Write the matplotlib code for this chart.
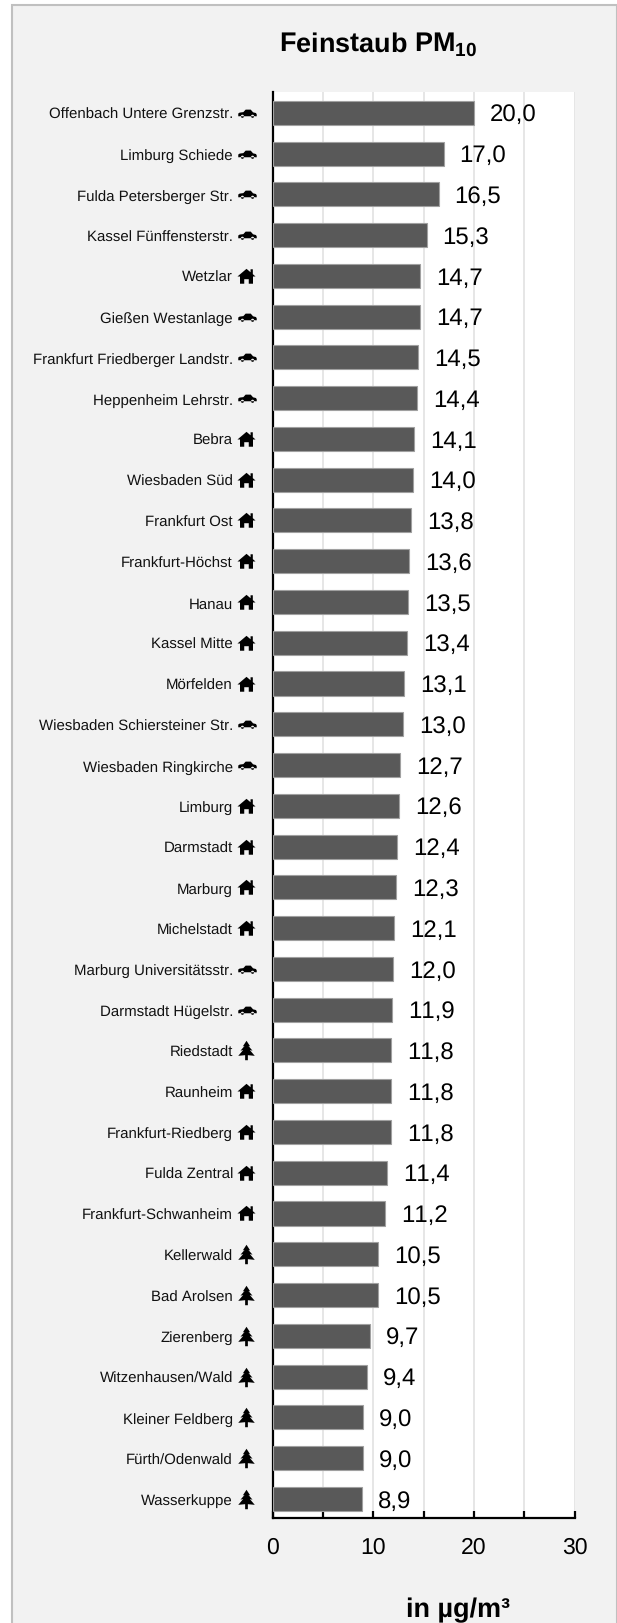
import matplotlib
matplotlib.use("Agg")
import matplotlib.pyplot as plt
from matplotlib.patches import Rectangle
from matplotlib.path import Path
import numpy as np

plt.rcParams['font.family'] = ['Liberation Sans', 'DejaVu Sans']
plt.rcParams['mathtext.fontset'] = 'custom'
plt.rcParams['mathtext.bf'] = 'Liberation Sans:bold'
plt.rcParams['mathtext.rm'] = 'Liberation Sans'
plt.rcParams['text.hinting'] = 'none'
plt.rcParams['text.hinting_factor'] = 1
plt.rcParams['text.kerning_factor'] = 6

stations = ["Offenbach Untere Grenzstr.", "Limburg Schiede", "Fulda Petersberger Str.",
            "Kassel Fünffensterstr.", "Wetzlar", "Gießen Westanlage",
            "Frankfurt Friedberger Landstr.", "Heppenheim Lehrstr.", "Bebra", "Wiesbaden Süd",
            "Frankfurt Ost", "Frankfurt-Höchst", "Hanau", "Kassel Mitte", "Mörfelden",
            "Wiesbaden Schiersteiner Str.", "Wiesbaden Ringkirche", "Limburg", "Darmstadt",
            "Marburg", "Michelstadt", "Marburg Universitätsstr.", "Darmstadt Hügelstr.",
            "Riedstadt", "Raunheim", "Frankfurt-Riedberg", "Fulda Zentral",
            "Frankfurt-Schwanheim", "Kellerwald", "Bad Arolsen", "Zierenberg",
            "Witzenhausen/Wald", "Kleiner Feldberg", "Fürth/Odenwald", "Wasserkuppe"]
values = [20.0, 17.0, 16.5, 15.3, 14.7, 14.7, 14.5, 14.4, 14.1, 14.0, 13.8, 13.6, 13.5, 13.4,
          13.1, 13.0, 12.7, 12.6, 12.4, 12.3, 12.1, 12.0, 11.9, 11.8, 11.8, 11.8, 11.4, 11.2,
          10.5, 10.5, 9.7, 9.4, 9.0, 9.0, 8.9]
kinds = ["car", "car", "car", "car", "house", "car", "car", "car", "house", "house",
         "house", "house", "house", "house", "house", "car", "car", "house", "house",
         "house", "house", "car", "car", "tree", "house", "house", "house", "house",
         "tree", "tree", "tree", "tree", "tree", "tree", "tree"]
x_ticks = [0, 5, 10, 15, 20, 25, 30]
x_labels = ["0", "", "10", "", "20", "", "30"]


def poly(points):
    points = list(points) + [points[0]]
    codes = [Path.MOVETO] + [Path.LINETO] * (len(points) - 2) + [Path.CLOSEPOLY]
    return Path(points, codes)


def car_marker():
    body = poly([(-1, -0.3), (-1, 0.0), (-0.85, 0.1), (-0.45, 0.15), (-0.2, 0.42), (0.35, 0.42),
                 (0.6, 0.13), (0.92, 0.05), (1, -0.1), (1, -0.3)])
    win1 = poly([(-0.28, 0.15), (-0.12, 0.33), (0.05, 0.33), (0.05, 0.15)])
    win2 = poly([(0.12, 0.15), (0.12, 0.33), (0.3, 0.33), (0.45, 0.15)])
    w1 = Path.circle((-0.55, -0.3), 0.17)
    w2 = Path.circle((0.55, -0.3), 0.17)
    return Path.make_compound_path(body, win1, win2, w1, w2)


def house_marker():
    return poly([(-1, 0.0), (0, 0.85), (0.45, 0.47), (0.45, 0.8), (0.7, 0.8), (0.7, 0.26),
                 (1, 0.0), (0.72, 0.0), (0.72, -0.8), (0.25, -0.8), (0.25, -0.3), (-0.25, -0.3),
                 (-0.25, -0.8), (-0.72, -0.8), (-0.72, 0.0)])


def tree_marker():
    return poly([(0, 1), (0.38, 0.42), (0.2, 0.47), (0.62, -0.02), (0.34, 0.05), (0.85, -0.55),
                 (0.14, -0.48), (0.14, -1), (-0.14, -1), (-0.14, -0.48), (-0.85, -0.55),
                 (-0.34, 0.05), (-0.62, -0.02), (-0.2, 0.47), (-0.38, 0.42)])


W, H = 617, 1624
fig = plt.figure(figsize=(W / 100, H / 100), dpi=100, facecolor="white")

# grey panel behind everything, bottom edge runs off the figure
fig.add_artist(Rectangle((12 / W, -10 / H), (W - 12.5) / W, (H + 10 - 5.5) / H,
                         transform=fig.transFigure, facecolor="#f2f2f2", edgecolor="#c0c0c0",
                         linewidth=1.5, zorder=-1))

ax = fig.add_axes([272.5 / W, 1 - 1519 / H, 302 / W, (1519 - 93) / H])
ax.set_facecolor("white")

y = np.arange(len(stations))
ax.barh(y, values, height=0.59, color="#595959", edgecolor="#a0a0a0", linewidth=0.8, zorder=3)
ax.set_xlim(0, 30)
ax.set_ylim(len(stations) - 1 + 0.47, -0.51)

ax.set_yticks(y)
ax.set_yticklabels(stations, fontsize=10.9, color="#111111")
ax.tick_params(axis="y", length=0, pad=28.5)
ax.set_xticks(x_ticks)
ax.set_xticklabels(x_labels, fontsize=16.5, color="black")
ax.tick_params(axis="x", direction="in", length=5, width=1.6, pad=13, color="black")
ax.grid(axis="x", color="#e4e4e4", linewidth=1.3, zorder=0)
ax.set_axisbelow(True)

for name in ["top", "right"]:
    ax.spines[name].set_visible(False)
for name in ["left", "bottom"]:
    ax.spines[name].set_linewidth(1.6)
    ax.spines[name].set_color("black")

for yi, v in zip(y, values):
    ax.annotate(f"{v:.1f}".replace(".", ","), (v, yi), xytext=(11.5, -1),
                textcoords="offset points", va="center", ha="left", fontsize=17.5, color="black")

icons = {"car": (car_marker(), 13.3, -0.084), "house": (house_marker(), 13, -0.087),
         "tree": (tree_marker(), 14, -0.087)}
kinds_arr = np.array(kinds)
for kind, (marker, size, pos) in icons.items():
    sel = y[kinds_arr == kind]
    ax.plot(np.full(len(sel), pos), sel, ls="none", marker=marker, ms=size, color="black",
            mew=0, transform=ax.get_yaxis_transform(), clip_on=False, zorder=5)

fig.text(378.5 / W, 1 - 45 / H, r"Feinstaub PM$_{\mathbf{10}}$", fontsize=19.2, fontweight="bold",
         ha="center", va="center")
fig.text(458 / W, 1 - 1610 / H, "in µg/m³", fontsize=19.2, fontweight="bold", ha="center", va="center")

fig.savefig("out.png", dpi=100, facecolor=fig.get_facecolor())
